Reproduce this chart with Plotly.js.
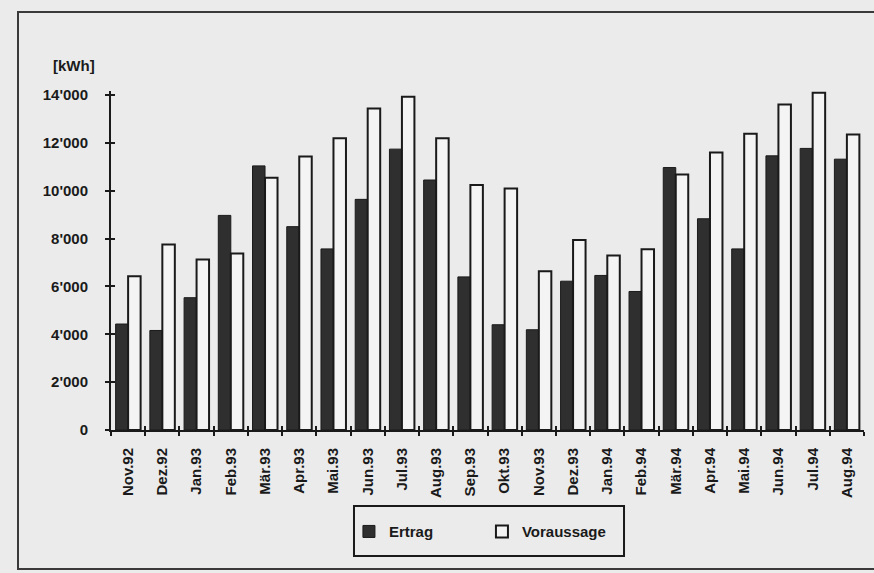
<!DOCTYPE html>
<html>
<head>
<meta charset="utf-8">
<script src="https://cdn.plot.ly/plotly-3.0.1.min.js"></script>
<style>html,body{margin:0;padding:0;background:#ebebeb;}#chart{width:874px;height:573px;}</style>
</head>
<body>
<div id="chart"></div>
<script>
const months = ["Nov.92","Dez.92","Jan.93","Feb.93","Mär.93","Apr.93","Mai.93","Jun.93","Jul.93","Aug.93","Sep.93","Okt.93","Nov.93","Dez.93","Jan.94","Feb.94","Mär.94","Apr.94","Mai.94","Jun.94","Jul.94","Aug.94"];
const ertrag = [4430,4160,5530,8970,11040,8500,7570,9640,11740,10450,6400,4400,4190,6220,6460,5790,10970,8830,7570,11460,11770,11320];
const voraussage = [6430,7750,7130,7380,10540,11430,12200,13440,13930,12190,10240,10090,6640,7940,7290,7560,10680,11600,12380,13610,14100,12350];
const yTicks = [0,2000,4000,6000,8000,10000,12000,14000];

const font = {family: "Liberation Sans, Arial, sans-serif", size: 15, color: "#1a1a1a", weight: "bold"};

const traces = [
  {type: "bar", name: "Ertrag", x: months, y: ertrag,
   marker: {color: "#2f2f2f", line: {color: "#1a1a1a", width: 1}}},
  {type: "bar", name: "Voraussage", x: months, y: voraussage,
   marker: {color: "#f4f4f4", line: {color: "#1a1a1a", width: 2}}},
  {type: "scatter", x: [], y: [], xaxis: "x2", yaxis: "y2", showlegend: false, hoverinfo: "skip"}
];

const yTop = 14170;

const layout = {
  width: 874, height: 573,
  margin: {l: 111, r: 10, t: 91, b: 143},
  paper_bgcolor: "#ebebeb", plot_bgcolor: "#ebebeb",
  separators: ".'",
  font: font,
  barmode: "group", bargap: 0.27, bargroupgap: 0,
  showlegend: true,
  legend: {orientation: "h", x: 0.316, xanchor: "left", y: -0.30, yanchor: "middle",
           bgcolor: "rgba(0,0,0,0)", borderwidth: 0, font: font,
           entrywidth: 88, entrywidthmode: "pixels", traceorder: "normal"},
  xaxis: {type: "category", showgrid: false, zeroline: false, showline: true, linecolor: "#1a1a1a", linewidth: 2,
          ticks: "outside", tickson: "boundaries", ticklen: 4, tickwidth: 2, tickcolor: "#1a1a1a",
          tickangle: -90, ticklabelstandoff: 10, tickfont: font, fixedrange: true},
  yaxis: {range: [0, yTop], tickvals: yTicks, tickformat: ",", showgrid: false, zeroline: false,
          showline: true, linecolor: "#1a1a1a", linewidth: 2,
          ticks: "outside", ticklen: 4, tickwidth: 2, tickcolor: "#1a1a1a",
          ticklabelstandoff: 14, tickfont: font, fixedrange: true},
  xaxis2: {overlaying: "x", range: [-0.5, 21.5], tick0: -0.5, dtick: 1, ticks: "inside", ticklen: 4, tickwidth: 2,
           tickcolor: "#1a1a1a", showticklabels: false, showgrid: false, zeroline: false, showline: false, anchor: "y2"},
  yaxis2: {overlaying: "y", range: [0, yTop], tickvals: yTicks, ticks: "inside", ticklen: 4, tickwidth: 2,
           tickcolor: "#1a1a1a", showticklabels: false, showgrid: false, zeroline: false, showline: false, anchor: "x2", side: "left"},
  annotations: [
    {text: "[kWh]", xref: "paper", yref: "paper", x: -0.049, y: 1.075, showarrow: false,
     xanchor: "center", yanchor: "middle", font: font}
  ],
  shapes: [
    {type: "rect", xref: "paper", yref: "paper", x0: -0.1235, x1: 1.06, y0: -0.41, y1: 1.233,
     line: {color: "#3a3a3a", width: 2}, fillcolor: "rgba(0,0,0,0)", layer: "below"},
    {type: "rect", xref: "paper", yref: "paper", x0: 0.3227, x1: 0.6813, y0: -0.3717, y1: -0.2242,
     line: {color: "#1a1a1a", width: 2}, fillcolor: "rgba(0,0,0,0)"}
  ]
};

Plotly.newPlot("chart", traces, layout, {displayModeBar: false, staticPlot: true});
</script>
</body>
</html>
